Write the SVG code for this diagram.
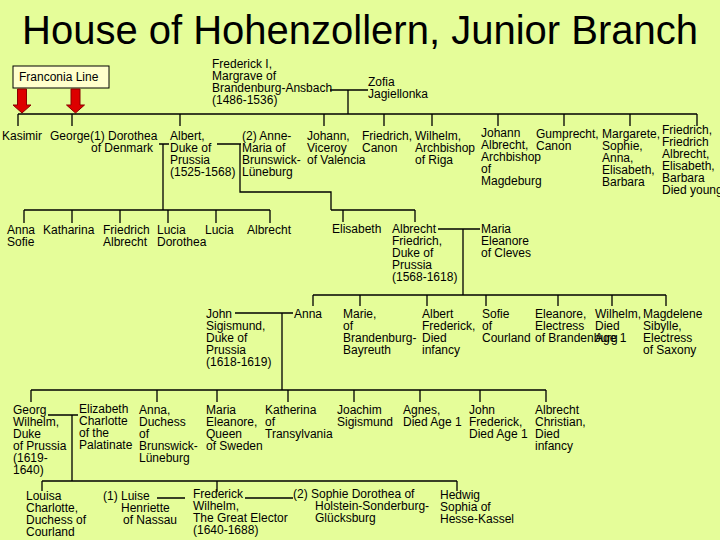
<svg xmlns="http://www.w3.org/2000/svg" width="720" height="540" viewBox="0 0 720 540">
<style>
.t{font-family:"Liberation Sans",Arial,sans-serif;font-size:12px;fill:#000}
.title{font-family:"Liberation Sans",Arial,sans-serif;font-size:40px;fill:#000}
.ln{stroke:#000;stroke-width:1.3;fill:none}
.arr{fill:#dd0000;stroke:#8a0000;stroke-width:1}
</style>
<rect x="0" y="0" width="720" height="540" fill="#e5fd99"/>
<text class="title" x="22" y="44">House of Hohenzollern, Junior Branch</text>

<g id="franconia">
<rect x="13" y="66" width="96" height="22" fill="#ffffcc" stroke="#000" stroke-width="1"/>
<text class="t" x="19" y="81">Franconia Line</text>
<path class="arr" d="M17.5,89 H26.5 V105 H31 L22,113 L13,105 H17.5 Z"/>
<path class="arr" d="M71,89 H80 V105 H84.5 L75.5,113 L66.5,105 H71 Z"/>
</g>

<g id="connectors">
<!-- Frederick I & Zofia -->
<path class="ln" d="M330,90 H368 M348,90 V114"/>
<path class="ln" d="M18,114 H697 M18,114 V126 M72,114 V126 M180,114 V126 M324,114 V126 M384,114 V126 M432,114 V126 M498,114 V126 M564,114 V126 M630,114 V126 M697,114 V126"/>
<!-- Albert & Dorothea -->
<path class="ln" d="M159,144 H169 M163,144 V210 M24,210 H270 M24,210 V223 M72,210 V223 M120,210 V223 M168,210 V223 M216,210 V223 M270,210 V223"/>
<!-- Albert & Anne -->
<path class="ln" d="M217,144 H241 M240,144 V192 H331 V210 M331,210 H415 M343,210 V222 M415,210 V222"/>
<!-- Albrecht Friedrich & Maria Eleanore -->
<path class="ln" d="M438,229 H480 M463,229 V295 M313,295 H666 M313,295 V306 M360,295 V306 M427,295 V306 M486,295 V306 M558,295 V306 M612,295 V306 M666,295 V306"/>
<!-- John Sigismund & Anna -->
<path class="ln" d="M235,313 H293 M282,313 V390 M31,390 H546 M31,390 V402 M157,390 V402 M217,390 V402 M288,390 V402 M354,390 V402 M420,390 V402 M480,390 V402 M546,390 V402"/>
<!-- Georg Wilhelm & Elizabeth Charlotte -->
<path class="ln" d="M48,415 H78 M72,415 V481 M42,481 H457 M42,481 V491 M217,481 V492 M457,481 V491"/>
<!-- Frederick Wilhelm marriages -->
<path class="ln" d="M157,498 H185 M245,498 H293"/>
</g>

<g id="frederick-i"><text class="t"><tspan x="212" y="68">Frederick I,</tspan><tspan x="212" dy="12">Margrave of</tspan><tspan x="212" dy="12">Brandenburg-Ansbach</tspan><tspan x="212" dy="12">(1486-1536)</tspan></text></g>
<g id="zofia"><text class="t"><tspan x="368" y="86">Zofia</tspan><tspan x="368" dy="12">Jagiellonka</tspan></text></g>

<g id="kasimir"><text class="t" x="2" y="140">Kasimir</text></g>
<g id="george"><text class="t" x="50" y="140">George</text></g>
<g id="dorothea"><text class="t"><tspan x="90" y="140">(1) Dorothea</tspan><tspan x="91" dy="12">of Denmark</tspan></text></g>
<g id="albert"><text class="t"><tspan x="170" y="140">Albert,</tspan><tspan x="170" dy="12">Duke of</tspan><tspan x="170" dy="12">Prussia</tspan><tspan x="170" dy="12">(1525-1568)</tspan></text></g>
<g id="anne-maria"><text class="t"><tspan x="242" y="140">(2) Anne-</tspan><tspan x="242" dy="12">Maria of</tspan><tspan x="242" dy="12">Brunswick-</tspan><tspan x="242" dy="12">Lüneburg</tspan></text></g>
<g id="johann"><text class="t"><tspan x="307" y="140">Johann,</tspan><tspan x="307" dy="12">Viceroy</tspan><tspan x="307" dy="12">of Valencia</tspan></text></g>
<g id="friedrich-canon"><text class="t"><tspan x="362" y="140">Friedrich,</tspan><tspan x="362" dy="12">Canon</tspan></text></g>
<g id="wilhelm"><text class="t"><tspan x="415" y="140">Wilhelm,</tspan><tspan x="415" dy="12">Archbishop</tspan><tspan x="415" dy="12">of Riga</tspan></text></g>
<g id="johann-albrecht"><text class="t"><tspan x="481" y="137">Johann</tspan><tspan x="481" dy="12">Albrecht,</tspan><tspan x="481" dy="12">Archbishop</tspan><tspan x="481" dy="12">of</tspan><tspan x="481" dy="12">Magdeburg</tspan></text></g>
<g id="gumprecht"><text class="t"><tspan x="536" y="138">Gumprecht,</tspan><tspan x="536" dy="12">Canon</tspan></text></g>
<g id="margarete"><text class="t"><tspan x="602" y="138">Margarete,</tspan><tspan x="602" dy="12">Sophie,</tspan><tspan x="602" dy="12">Anna,</tspan><tspan x="602" dy="12">Elisabeth,</tspan><tspan x="602" dy="12">Barbara</tspan></text></g>
<g id="friedrich-young"><text class="t"><tspan x="662" y="134">Friedrich,</tspan><tspan x="662" dy="12">Friedrich</tspan><tspan x="662" dy="12">Albrecht,</tspan><tspan x="662" dy="12">Elisabeth,</tspan><tspan x="662" dy="12">Barbara</tspan><tspan x="662" dy="12">Died young</tspan></text></g>

<g id="anna-sofie"><text class="t"><tspan x="7" y="234">Anna</tspan><tspan x="7" dy="12">Sofie</tspan></text></g>
<g id="katharina"><text class="t" x="43" y="234">Katharina</text></g>
<g id="friedrich-albrecht"><text class="t"><tspan x="103" y="234">Friedrich</tspan><tspan x="103" dy="12">Albrecht</tspan></text></g>
<g id="lucia-dorothea"><text class="t"><tspan x="157" y="234">Lucia</tspan><tspan x="157" dy="12">Dorothea</tspan></text></g>
<g id="lucia"><text class="t" x="205" y="234">Lucia</text></g>
<g id="albrecht"><text class="t" x="247" y="234">Albrecht</text></g>
<g id="elisabeth"><text class="t" x="332" y="233">Elisabeth</text></g>
<g id="albrecht-friedrich"><text class="t"><tspan x="392" y="233">Albrecht</tspan><tspan x="392" dy="12">Friedrich,</tspan><tspan x="392" dy="12">Duke of</tspan><tspan x="392" dy="12">Prussia</tspan><tspan x="392" dy="12">(1568-1618)</tspan></text></g>
<g id="maria-eleanore"><text class="t"><tspan x="481" y="233">Maria</tspan><tspan x="481" dy="12">Eleanore</tspan><tspan x="481" dy="12">of Cleves</tspan></text></g>

<g id="john-sigismund"><text class="t"><tspan x="206" y="318">John</tspan><tspan x="206" dy="12">Sigismund,</tspan><tspan x="206" dy="12">Duke of</tspan><tspan x="206" dy="12">Prussia</tspan><tspan x="206" dy="12">(1618-1619)</tspan></text></g>
<g id="anna"><text class="t" x="294" y="318">Anna</text></g>
<g id="marie"><text class="t"><tspan x="343" y="318">Marie,</tspan><tspan x="343" dy="12">of</tspan><tspan x="343" dy="12">Brandenburg-</tspan><tspan x="343" dy="12">Bayreuth</tspan></text></g>
<g id="albert-frederick"><text class="t"><tspan x="422" y="318">Albert</tspan><tspan x="422" dy="12">Frederick,</tspan><tspan x="422" dy="12">Died</tspan><tspan x="422" dy="12">infancy</tspan></text></g>
<g id="sofie"><text class="t"><tspan x="482" y="318">Sofie</tspan><tspan x="482" dy="12">of</tspan><tspan x="482" dy="12">Courland</tspan></text></g>
<g id="eleanore"><text class="t"><tspan x="535" y="318">Eleanore,</tspan><tspan x="535" dy="12">Electress</tspan><tspan x="535" dy="12">of Brandenburg</tspan></text></g>
<g id="wilhelm-age1"><text class="t"><tspan x="595" y="318">Wilhelm,</tspan><tspan x="595" dy="12">Died</tspan><tspan x="595" dy="12">Age 1</tspan></text></g>
<g id="magdelene"><text class="t"><tspan x="643" y="318">Magdelene</tspan><tspan x="643" dy="12">Sibylle,</tspan><tspan x="643" dy="12">Electress</tspan><tspan x="643" dy="12">of Saxony</tspan></text></g>

<g id="georg-wilhelm"><text class="t"><tspan x="13" y="414">Georg</tspan><tspan x="13" dy="12">Wilhelm,</tspan><tspan x="13" dy="12">Duke</tspan><tspan x="13" dy="12">of Prussia</tspan><tspan x="13" dy="12">(1619-</tspan><tspan x="13" dy="12">1640)</tspan></text></g>
<g id="elizabeth-charlotte"><text class="t"><tspan x="79" y="413">Elizabeth</tspan><tspan x="79" dy="12">Charlotte</tspan><tspan x="79" dy="12">of the</tspan><tspan x="79" dy="12">Palatinate</tspan></text></g>
<g id="anna-duchess"><text class="t"><tspan x="139" y="414">Anna,</tspan><tspan x="139" dy="12">Duchess</tspan><tspan x="139" dy="12">of</tspan><tspan x="139" dy="12">Brunswick-</tspan><tspan x="139" dy="12">Lüneburg</tspan></text></g>
<g id="maria-eleanore-sweden"><text class="t"><tspan x="206" y="414">Maria</tspan><tspan x="206" dy="12">Eleanore,</tspan><tspan x="206" dy="12">Queen</tspan><tspan x="206" dy="12">of Sweden</tspan></text></g>
<g id="katherina"><text class="t"><tspan x="265" y="414">Katherina</tspan><tspan x="265" dy="12">of</tspan><tspan x="265" dy="12">Transylvania</tspan></text></g>
<g id="joachim"><text class="t"><tspan x="337" y="414">Joachim</tspan><tspan x="337" dy="12">Sigismund</tspan></text></g>
<g id="agnes"><text class="t"><tspan x="403" y="414">Agnes,</tspan><tspan x="403" dy="12">Died Age 1</tspan></text></g>
<g id="john-frederick"><text class="t"><tspan x="469" y="414">John</tspan><tspan x="469" dy="12">Frederick,</tspan><tspan x="469" dy="12">Died Age 1</tspan></text></g>
<g id="albrecht-christian"><text class="t"><tspan x="535" y="414">Albrecht</tspan><tspan x="535" dy="12">Christian,</tspan><tspan x="535" dy="12">Died</tspan><tspan x="535" dy="12">infancy</tspan></text></g>

<g id="louisa"><text class="t"><tspan x="26" y="500">Louisa</tspan><tspan x="26" dy="12">Charlotte,</tspan><tspan x="26" dy="12">Duchess of</tspan><tspan x="26" dy="12">Courland</tspan></text></g>
<g id="luise"><text class="t"><tspan x="103" y="500">(1) Luise</tspan><tspan x="121" dy="12">Henriette</tspan><tspan x="123" dy="12">of Nassau</tspan></text></g>
<g id="frederick-wilhelm"><text class="t"><tspan x="193" y="498">Frederick</tspan><tspan x="193" dy="12">Wilhelm,</tspan><tspan x="193" dy="12">The Great Elector</tspan><tspan x="193" dy="12">(1640-1688)</tspan></text></g>
<g id="sophie-dorothea"><text class="t"><tspan x="293" y="498">(2) Sophie Dorothea of</tspan><tspan x="315" dy="12">Holstein-Sonderburg-</tspan><tspan x="315" dy="12">Glücksburg</tspan></text></g>
<g id="hedwig"><text class="t"><tspan x="440" y="499">Hedwig</tspan><tspan x="440" dy="12">Sophia of</tspan><tspan x="440" dy="12">Hesse-Kassel</tspan></text></g>
</svg>
